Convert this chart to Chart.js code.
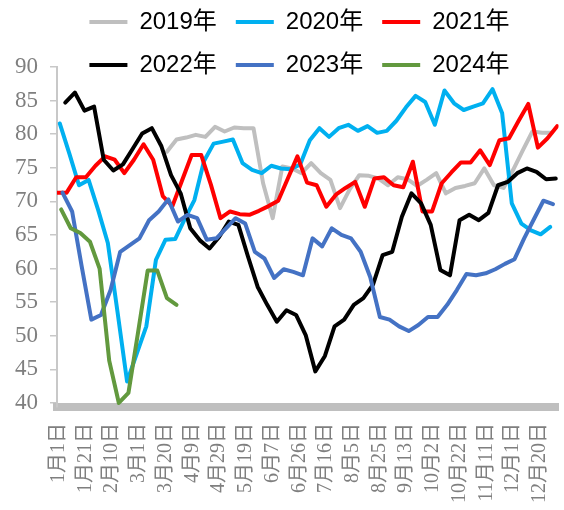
<!DOCTYPE html>
<html>
<head>
<meta charset="utf-8">
<script src="https://cdn.jsdelivr.net/npm/chart.js@4.4.1/dist/chart.umd.min.js"></script>
<style>
  html, body { margin: 0; padding: 0; background: #fff; }
  #wrap { width: 564px; height: 510px; }
</style>
</head>
<body>
<div id="wrap"><canvas id="chart"></canvas></div>
<script>
// x axis labels (evenly spaced on the axis)
const tickLabels = ['1月1日','1月21日','2月10日','3月1日','3月20日','4月9日','4月29日','5月19日','6月7日',
  '6月26日','7月16日','8月5日','8月25日','9月13日','10月2日','10月22日','11月11日','12月1日','12月20日'];

// weekly readings, each year starts at its own day of year
const start2019 = 80;
const v2019 = [77.4,79.2,79.5,79.9,79.6,81.1,80.4,81.0,80.9,80.9,72.7,67.5,75.2,74.9,74.2,75.7,74.2,73.2,69.0,71.8,
  73.9,73.8,73.4,72.4,73.6,73.3,72.3,73.2,74.2,71.2,72.0,72.3,72.7,74.9,72.4,72.0,74.7,77.6,80.4,80.2,80.2];
const start2020 = 2;
const v2020 = [81.6,77.1,72.4,73.2,68.7,63.8,53.6,43.2,47.3,51.4,61.3,64.3,64.4,67.4,70.2,76.0,78.6,78.9,79.2,75.7,
  74.7,74.2,75.3,74.9,74.8,75.5,79.1,80.9,79.6,80.9,81.4,80.5,81.2,80.2,80.5,82.0,84.0,85.7,84.8,81.4,
  86.5,84.6,83.6,84.1,84.6,86.7,83.1,69.7,66.7,65.7,65.1,66.2];
const start2021 = 0;
const v2021 = [71.3,71.3,73.6,73.6,75.3,76.7,76.2,74.2,76.2,78.5,76.2,70.8,69.3,73.1,76.9,76.9,72.5,67.5,68.5,68.1,
  68.0,68.6,69.3,70.1,73.4,76.7,72.8,72.4,69.2,71.0,72.0,72.9,69.2,73.4,73.6,72.4,72.1,75.9,68.5,68.5,
  72.7,74.3,75.8,75.8,77.6,75.4,79.1,79.4,82.0,84.5,78.0,79.4,81.2];
const start2022 = 6;
const v2022 = [84.7,86.2,83.5,84.1,76.2,74.6,75.5,77.8,80.1,80.9,78.2,73.9,71.2,66.0,64.2,63.0,64.7,67.0,66.5,61.8,
  57.3,54.6,52.1,53.8,53.1,50.1,44.7,47.0,51.4,52.4,54.6,55.6,57.6,62.0,62.5,67.7,71.2,69.7,66.5,59.8,
  59.0,67.2,68.0,67.2,68.3,72.4,72.9,74.2,74.9,74.4,73.3,73.4];
const start2023 = 4;
const v2023 = [71.3,68.5,60.3,52.4,53.1,56.8,62.5,63.5,64.5,67.2,68.5,70.3,67.0,68.0,67.5,64.3,64.5,66.0,67.5,66.7,
  62.5,61.5,58.6,59.9,59.5,59.0,64.5,63.3,66.0,65.0,64.5,62.5,58.7,52.8,52.4,51.4,50.7,51.6,52.8,52.8,
  54.6,56.8,59.2,59.0,59.3,59.9,60.7,61.4,64.5,67.3,70.1,69.6];
const start2024 = 3;
const v2024 = [68.8,66.0,65.3,64.0,60.0,46.3,40.0,41.5,50.5,59.7,59.7,55.6,54.6];

function weekly(startDay, values) {
  return values.map((v, i) => ({ x: startDay + 7 * i, y: v }));
}

function line(label, color, startDay, values, order) {
  return {
    label: label,
    data: weekly(startDay, values),
    borderColor: color,
    backgroundColor: color,
    borderWidth: 4,
    borderJoinStyle: 'round',
    borderCapStyle: 'round',
    pointRadius: 0,
    fill: false,
    tension: 0,
    xAxisID: 'x',
    yAxisID: 'y',
    order: order
  };
}

const grey = '#7f7f7f';
const serif = '"Liberation Serif", "Times New Roman", "Noto Sans CJK SC", serif';

// legend sits over the top of the plot, so shrink its box and nudge it (no clipping)
const legendPlace = {
  id: 'legendPlace',
  beforeInit(chart) {
    const legend = chart.legend;
    const fit = legend.fit;
    legend.fit = function () { fit.call(this); this.height = 67; };
    legend.draw = function () {
      this.ctx.save();
      this.ctx.translate(18, -9);
      this._draw();
      this.ctx.restore();
    };
  }
};

const ctx = document.getElementById('chart').getContext('2d');
new Chart(ctx, {
  type: 'line',
  data: {
    datasets: [
      line('2019年', '#bfbfbf', start2019, v2019, 6),
      line('2020年', '#00b0f0', start2020, v2020, 5),
      line('2021年', '#ff0000', start2021, v2021, 4),
      line('2022年', '#000000', start2022, v2022, 3),
      line('2023年', '#4472c4', start2023, v2023, 2),
      line('2024年', '#62993e', start2024, v2024, 1)
    ]
  },
  options: {
    responsive: true,
    maintainAspectRatio: false,
    animation: false,
    layout: { padding: { top: 0, right: 1, bottom: 0, left: 0 } },
    plugins: {
      tooltip: { enabled: false },
      legend: {
        position: 'top',
        labels: {
          usePointStyle: true,
          pointStyle: 'line',
          pointStyleWidth: 38,
          padding: 19,
          color: '#000',
          font: { family: '"Liberation Sans", Arial, "Noto Sans CJK SC", sans-serif', size: 24 },
          sort: (a, b) => a.datasetIndex - b.datasetIndex
        }
      }
    },
    scales: {
      x: {
        type: 'linear',
        display: false,
        min: 0,
        max: 365
      },
      xl: {
        type: 'linear',
        position: 'bottom',
        min: -0.067,
        max: 18.70,
        afterBuildTicks: axis => { axis.ticks = tickLabels.map((t, i) => ({ value: i })); },
        afterFit: scale => { scale.height = 103; },
        grid: { drawOnChartArea: false, drawTicks: true, tickLength: 16, color: 'transparent' },
        border: { color: '#bfbfbf', width: 8 },
        ticks: {
          autoSkip: false,
          minRotation: 90,
          maxRotation: 90,
          padding: 0,
          color: grey,
          font: { family: serif, size: 20 },
          callback: (v, i) => tickLabels[i]
        }
      },
      y: {
        min: 39.4,
        max: 90,
        afterFit: scale => { scale.width = 57; },
        grid: { drawOnChartArea: false, drawTicks: true, tickLength: 7, color: '#c8c8c8', lineWidth: 1.5 },
        border: { color: '#c8c8c8', width: 2 },
        ticks: {
          stepSize: 5,
          includeBounds: false,
          padding: 12,
          color: grey,
          font: { family: serif, size: 23 }
        }
      }
    }
  },
  plugins: [legendPlace]
});
</script>
</body>
</html>
